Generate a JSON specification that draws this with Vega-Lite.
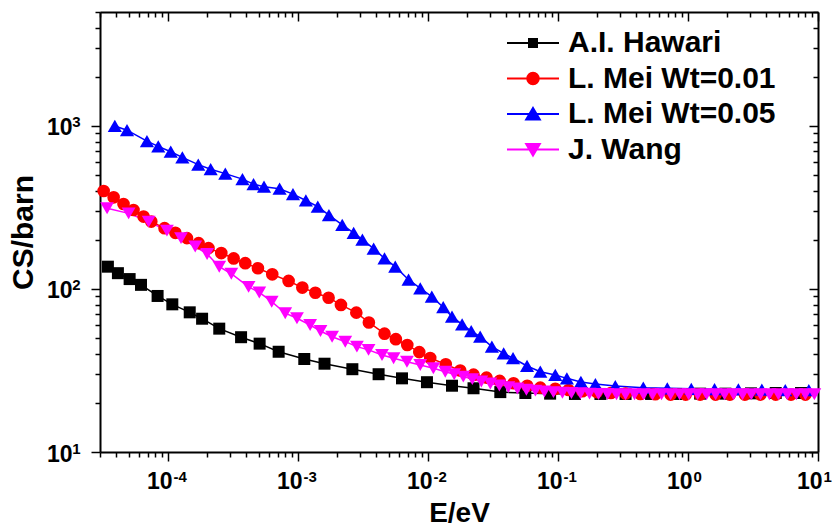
{
"$schema": "https://vega.github.io/schema/vega-lite/v6.json",
"width": 718, "height": 440,
"autosize": {"type": "none"},
"padding": {"left": 100, "top": 12, "right": 15, "bottom": 79},
"background": "white",
"config": {"view": {"stroke": null}, "axis": {"grid": false, "labelFont": "Liberation Sans", "titleFont": "Liberation Sans", "labelFontWeight": "bold", "titleFontWeight": "bold", "labelColor": "black", "titleColor": "black", "domainColor": "black", "tickColor": "black", "labelFlush": false, "labelOverlap": false, "labelBound": false},
 "legend": {"title": null, "orient": "none", "legendX": 418, "legendY": 16, "padding": 0, "symbolSize": 256, "symbolStrokeWidth": 2, "labelFont": "Liberation Sans", "labelFontWeight": "bold", "labelFontSize": 30, "labelColor": "black", "labelOffset": 20, "rowPadding": 5.5, "labelLimit": 400}},
"data": {"values": [
{"s":"A.I. Hawari","E":3.45e-5,"CS":137},{"s":"A.I. Hawari","E":4.12e-5,"CS":125},{"s":"A.I. Hawari","E":5.07e-5,"CS":115},{"s":"A.I. Hawari","E":6.2e-5,"CS":106},{"s":"A.I. Hawari","E":8.32e-5,"CS":90.6},{"s":"A.I. Hawari","E":1.08e-4,"CS":80.5},{"s":"A.I. Hawari","E":1.47e-4,"CS":71.9},{"s":"A.I. Hawari","E":1.83e-4,"CS":65.7},{"s":"A.I. Hawari","E":2.48e-4,"CS":57.1},{"s":"A.I. Hawari","E":3.65e-4,"CS":50.6},{"s":"A.I. Hawari","E":5.07e-4,"CS":46.2},{"s":"A.I. Hawari","E":7.1e-4,"CS":41.2},{"s":"A.I. Hawari","E":1.118e-3,"CS":37.2},{"s":"A.I. Hawari","E":1.6e-3,"CS":34.8},{"s":"A.I. Hawari","E":2.62e-3,"CS":32.2},{"s":"A.I. Hawari","E":4.17e-3,"CS":30.0},{"s":"A.I. Hawari","E":6.31e-3,"CS":28.3},{"s":"A.I. Hawari","E":9.82e-3,"CS":26.8},{"s":"A.I. Hawari","E":1.53e-2,"CS":25.5},{"s":"A.I. Hawari","E":2.24e-2,"CS":24.6},{"s":"A.I. Hawari","E":3.6e-2,"CS":23.3},{"s":"A.I. Hawari","E":0.0561,"CS":23.0},{"s":"A.I. Hawari","E":0.087,"CS":22.8},{"s":"A.I. Hawari","E":0.135,"CS":22.7},{"s":"A.I. Hawari","E":0.212,"CS":22.7},{"s":"A.I. Hawari","E":0.331,"CS":22.7},{"s":"A.I. Hawari","E":0.52,"CS":22.7},{"s":"A.I. Hawari","E":0.81,"CS":22.7},{"s":"A.I. Hawari","E":1.24,"CS":22.8},{"s":"A.I. Hawari","E":1.94,"CS":22.8},{"s":"A.I. Hawari","E":3.05,"CS":22.9},{"s":"A.I. Hawari","E":4.73,"CS":23.0},{"s":"A.I. Hawari","E":7.4,"CS":23.0},
{"s":"L. Mei Wt=0.01","E":3.2e-5,"CS":399},{"s":"L. Mei Wt=0.01","E":3.82e-5,"CS":365},{"s":"L. Mei Wt=0.01","E":4.55e-5,"CS":332},{"s":"L. Mei Wt=0.01","E":5.43e-5,"CS":305},{"s":"L. Mei Wt=0.01","E":6.49e-5,"CS":278},{"s":"L. Mei Wt=0.01","E":7.44e-5,"CS":259},{"s":"L. Mei Wt=0.01","E":9.41e-5,"CS":236},{"s":"L. Mei Wt=0.01","E":1.14e-4,"CS":221},{"s":"L. Mei Wt=0.01","E":1.4e-4,"CS":205},{"s":"L. Mei Wt=0.01","E":1.72e-4,"CS":191},{"s":"L. Mei Wt=0.01","E":2.05e-4,"CS":178},{"s":"L. Mei Wt=0.01","E":2.57e-4,"CS":166},{"s":"L. Mei Wt=0.01","E":3.2e-4,"CS":154},{"s":"L. Mei Wt=0.01","E":3.93e-4,"CS":144},{"s":"L. Mei Wt=0.01","E":4.92e-4,"CS":134},{"s":"L. Mei Wt=0.01","E":6.34e-4,"CS":123},{"s":"L. Mei Wt=0.01","E":8.47e-4,"CS":112},{"s":"L. Mei Wt=0.01","E":1.08e-3,"CS":102},{"s":"L. Mei Wt=0.01","E":1.36e-3,"CS":94.8},{"s":"L. Mei Wt=0.01","E":1.72e-3,"CS":88.4},{"s":"L. Mei Wt=0.01","E":2.14e-3,"CS":79.8},{"s":"L. Mei Wt=0.01","E":2.81e-3,"CS":71.6},{"s":"L. Mei Wt=0.01","E":3.51e-3,"CS":62.3},{"s":"L. Mei Wt=0.01","E":4.63e-3,"CS":53.2},{"s":"L. Mei Wt=0.01","E":5.66e-3,"CS":49.2},{"s":"L. Mei Wt=0.01","E":6.93e-3,"CS":45.3},{"s":"L. Mei Wt=0.01","E":8.57e-3,"CS":41.0},{"s":"L. Mei Wt=0.01","E":1.04e-2,"CS":37.7},{"s":"L. Mei Wt=0.01","E":1.37e-2,"CS":34.5},{"s":"L. Mei Wt=0.01","E":1.77e-2,"CS":31.6},{"s":"L. Mei Wt=0.01","E":2.24e-2,"CS":29.8},{"s":"L. Mei Wt=0.01","E":2.82e-2,"CS":28.6},{"s":"L. Mei Wt=0.01","E":3.56e-2,"CS":27.3},{"s":"L. Mei Wt=0.01","E":4.55e-2,"CS":26.4},{"s":"L. Mei Wt=0.01","E":5.8e-2,"CS":25.5},{"s":"L. Mei Wt=0.01","E":7.31e-2,"CS":24.8},{"s":"L. Mei Wt=0.01","E":9.53e-2,"CS":24.4},{"s":"L. Mei Wt=0.01","E":0.1206,"CS":24.0},{"s":"L. Mei Wt=0.01","E":0.154,"CS":23.6},{"s":"L. Mei Wt=0.01","E":0.199,"CS":23.3},{"s":"L. Mei Wt=0.01","E":0.255,"CS":23.0},{"s":"L. Mei Wt=0.01","E":0.331,"CS":22.8},{"s":"L. Mei Wt=0.01","E":0.43,"CS":22.7},{"s":"L. Mei Wt=0.01","E":0.56,"CS":22.6},{"s":"L. Mei Wt=0.01","E":0.735,"CS":22.5},{"s":"L. Mei Wt=0.01","E":0.96,"CS":22.5},{"s":"L. Mei Wt=0.01","E":1.24,"CS":22.5},{"s":"L. Mei Wt=0.01","E":1.63,"CS":22.5},{"s":"L. Mei Wt=0.01","E":2.1,"CS":22.5},{"s":"L. Mei Wt=0.01","E":2.74,"CS":22.5},{"s":"L. Mei Wt=0.01","E":3.61,"CS":22.5},{"s":"L. Mei Wt=0.01","E":4.73,"CS":22.5},{"s":"L. Mei Wt=0.01","E":6.2,"CS":22.5},{"s":"L. Mei Wt=0.01","E":8.0,"CS":22.5},
{"s":"L. Mei Wt=0.05","E":3.9e-5,"CS":1000},{"s":"L. Mei Wt=0.05","E":4.84e-5,"CS":942},{"s":"L. Mei Wt=0.05","E":6.89e-5,"CS":807},{"s":"L. Mei Wt=0.05","E":8.42e-5,"CS":750},{"s":"L. Mei Wt=0.05","E":1.05e-4,"CS":695},{"s":"L. Mei Wt=0.05","E":1.29e-4,"CS":641},{"s":"L. Mei Wt=0.05","E":1.71e-4,"CS":579},{"s":"L. Mei Wt=0.05","E":2.13e-4,"CS":543},{"s":"L. Mei Wt=0.05","E":2.76e-4,"CS":510},{"s":"L. Mei Wt=0.05","E":3.74e-4,"CS":472},{"s":"L. Mei Wt=0.05","E":4.55e-4,"CS":440},{"s":"L. Mei Wt=0.05","E":5.48e-4,"CS":424},{"s":"L. Mei Wt=0.05","E":7.22e-4,"CS":412},{"s":"L. Mei Wt=0.05","E":9.15e-4,"CS":382},{"s":"L. Mei Wt=0.05","E":1.15e-3,"CS":349},{"s":"L. Mei Wt=0.05","E":1.42e-3,"CS":320},{"s":"L. Mei Wt=0.05","E":1.73e-3,"CS":284},{"s":"L. Mei Wt=0.05","E":2.19e-3,"CS":247},{"s":"L. Mei Wt=0.05","E":2.68e-3,"CS":221},{"s":"L. Mei Wt=0.05","E":3.13e-3,"CS":201},{"s":"L. Mei Wt=0.05","E":3.82e-3,"CS":177},{"s":"L. Mei Wt=0.05","E":4.63e-3,"CS":154},{"s":"L. Mei Wt=0.05","E":5.6e-3,"CS":137},{"s":"L. Mei Wt=0.05","E":7.09e-3,"CS":114},{"s":"L. Mei Wt=0.05","E":8.72e-3,"CS":101},{"s":"L. Mei Wt=0.05","E":1.07e-2,"CS":89.7},{"s":"L. Mei Wt=0.05","E":1.31e-2,"CS":77.3},{"s":"L. Mei Wt=0.05","E":1.53e-2,"CS":67.6},{"s":"L. Mei Wt=0.05","E":1.83e-2,"CS":60.7},{"s":"L. Mei Wt=0.05","E":2.15e-2,"CS":55.2},{"s":"L. Mei Wt=0.05","E":2.52e-2,"CS":51.0},{"s":"L. Mei Wt=0.05","E":3.1e-2,"CS":44.3},{"s":"L. Mei Wt=0.05","E":3.82e-2,"CS":40.3},{"s":"L. Mei Wt=0.05","E":4.51e-2,"CS":37.6},{"s":"L. Mei Wt=0.05","E":5.78e-2,"CS":33.7},{"s":"L. Mei Wt=0.05","E":7.31e-2,"CS":31.1},{"s":"L. Mei Wt=0.05","E":9.53e-2,"CS":29.7},{"s":"L. Mei Wt=0.05","E":0.117,"CS":28.3},{"s":"L. Mei Wt=0.05","E":0.15,"CS":26.9},{"s":"L. Mei Wt=0.05","E":0.194,"CS":26.1},{"s":"L. Mei Wt=0.05","E":0.276,"CS":25.4},{"s":"L. Mei Wt=0.05","E":0.453,"CS":24.8},{"s":"L. Mei Wt=0.05","E":0.693,"CS":24.6},{"s":"L. Mei Wt=0.05","E":1.06,"CS":24.4},{"s":"L. Mei Wt=0.05","E":1.6,"CS":24.3},{"s":"L. Mei Wt=0.05","E":2.44,"CS":24.2},{"s":"L. Mei Wt=0.05","E":3.7,"CS":24.1},{"s":"L. Mei Wt=0.05","E":5.6,"CS":24.0},{"s":"L. Mei Wt=0.05","E":8.5,"CS":24.0},
{"s":"J. Wang","E":3.4e-5,"CS":313},{"s":"J. Wang","E":4.98e-5,"CS":291},{"s":"J. Wang","E":7.1e-5,"CS":259},{"s":"J. Wang","E":9.82e-5,"CS":228},{"s":"J. Wang","E":1.26e-4,"CS":205},{"s":"J. Wang","E":1.62e-4,"CS":182},{"s":"J. Wang","E":2.0e-4,"CS":164},{"s":"J. Wang","E":2.48e-4,"CS":137},{"s":"J. Wang","E":3.07e-4,"CS":124},{"s":"J. Wang","E":4.17e-4,"CS":103},{"s":"J. Wang","E":5.04e-4,"CS":95.2},{"s":"J. Wang","E":6.28e-4,"CS":83.6},{"s":"J. Wang","E":7.98e-4,"CS":71.0},{"s":"J. Wang","E":9.82e-4,"CS":66.1},{"s":"J. Wang","E":1.24e-3,"CS":60.1},{"s":"J. Wang","E":1.49e-3,"CS":55.2},{"s":"J. Wang","E":1.83e-3,"CS":50.9},{"s":"J. Wang","E":2.31e-3,"CS":47.5},{"s":"J. Wang","E":2.84e-3,"CS":44.3},{"s":"J. Wang","E":3.49e-3,"CS":42.3},{"s":"J. Wang","E":4.43e-3,"CS":39.4},{"s":"J. Wang","E":5.44e-3,"CS":37.6},{"s":"J. Wang","E":6.89e-3,"CS":35.8},{"s":"J. Wang","E":8.72e-3,"CS":34.2},{"s":"J. Wang","E":1.1e-2,"CS":32.6},{"s":"J. Wang","E":0.01358,"CS":31.1},{"s":"J. Wang","E":0.01592,"CS":30.0},{"s":"J. Wang","E":0.01869,"CS":29.0},{"s":"J. Wang","E":0.02193,"CS":28.0},{"s":"J. Wang","E":0.02573,"CS":27.1},{"s":"J. Wang","E":0.03017,"CS":26.3},{"s":"J. Wang","E":0.0354,"CS":25.6},{"s":"J. Wang","E":0.04152,"CS":25.0},{"s":"J. Wang","E":0.04871,"CS":24.5},{"s":"J. Wang","E":0.05714,"CS":24.1},{"s":"J. Wang","E":0.06703,"CS":23.8},{"s":"J. Wang","E":0.07863,"CS":23.5},{"s":"J. Wang","E":0.09224,"CS":23.3},{"s":"J. Wang","E":0.1082,"CS":23.1},{"s":"J. Wang","E":0.1269,"CS":23.0},{"s":"J. Wang","E":0.1489,"CS":22.9},{"s":"J. Wang","E":0.1747,"CS":22.8},{"s":"J. Wang","E":0.2049,"CS":22.7},{"s":"J. Wang","E":0.2404,"CS":22.7},{"s":"J. Wang","E":0.282,"CS":22.6},{"s":"J. Wang","E":0.3308,"CS":22.6},{"s":"J. Wang","E":0.388,"CS":22.6},{"s":"J. Wang","E":0.4552,"CS":22.6},{"s":"J. Wang","E":0.534,"CS":22.6},{"s":"J. Wang","E":0.626,"CS":22.6},{"s":"J. Wang","E":0.735,"CS":22.6},{"s":"J. Wang","E":0.862,"CS":22.6},{"s":"J. Wang","E":1.011,"CS":22.6},{"s":"J. Wang","E":1.186,"CS":22.6},{"s":"J. Wang","E":1.39,"CS":22.6},{"s":"J. Wang","E":1.63,"CS":22.6},{"s":"J. Wang","E":1.91,"CS":22.6},{"s":"J. Wang","E":2.24,"CS":22.6},{"s":"J. Wang","E":2.63,"CS":22.6},{"s":"J. Wang","E":3.07,"CS":22.6},{"s":"J. Wang","E":3.61,"CS":22.6},{"s":"J. Wang","E":4.23,"CS":22.6},{"s":"J. Wang","E":4.96,"CS":22.6},{"s":"J. Wang","E":5.81,"CS":22.6},{"s":"J. Wang","E":6.82,"CS":22.6},{"s":"J. Wang","E":8.0,"CS":22.6},{"s":"J. Wang","E":9.38,"CS":22.6}
]},
"layer": [
{"mark": {"type": "line", "strokeWidth": 1.5},
 "encoding": {
  "x": {"field": "E", "type": "quantitative", "scale": {"type": "log", "domain": [0.00003, 10], "nice": false},
   "axis": {"orient": "bottom", "values": [0.00003,0.00004,0.00005,0.00006,0.00007,0.00008,0.00009,0.0001,0.0002,0.0003,0.0004,0.0005,0.0006,0.0007,0.0008,0.0009,0.001,0.002,0.003,0.004,0.005,0.006,0.007,0.008,0.009,0.01,0.02,0.03,0.04,0.05,0.06,0.07,0.08,0.09,0.1,0.2,0.3,0.4,0.5,0.6,0.7,0.8,0.9,1,2,3,4,5,6,7,8,9,10],
    "labelExpr": "abs(log(datum.value)/LN10 - round(log(datum.value)/LN10)) < 0.000001 ? '10' : ''",
    "tickSize": {"condition": {"test": "abs(log(datum.value)/LN10 - round(log(datum.value)/LN10)) < 0.000001", "value": 9}, "value": 5},
    "tickWidth": 1.5, "domainWidth": 2, "labelFontSize": 23, "labelAlign": "right", "labelOffset": 4, "labelPadding": 9, "labelBaseline": "top",
    "title": "E/eV", "titleFontSize": 28, "titlePadding": 6}},
  "y": {"field": "CS", "type": "quantitative", "scale": {"type": "log", "domain": [10, 5000], "nice": false},
   "axis": {"orient": "left", "values": [10,20,30,40,50,60,70,80,90,100,200,300,400,500,600,700,800,900,1000,2000,3000,4000,5000],
    "labelExpr": "abs(log(datum.value)/LN10 - round(log(datum.value)/LN10)) < 0.000001 ? '10' : ''",
    "tickSize": {"condition": {"test": "abs(log(datum.value)/LN10 - round(log(datum.value)/LN10)) < 0.000001", "value": 9}, "value": 5},
    "tickWidth": 1.5, "domainWidth": 2, "labelFontSize": 23, "labelPadding": 19, "labelOffset": 2,
    "title": "CS/barn", "titleFontSize": 30, "titlePadding": 8}},
  "color": {"field": "s", "type": "nominal",
   "scale": {"domain": ["A.I. Hawari", "L. Mei Wt=0.01", "L. Mei Wt=0.05", "J. Wang"], "range": ["#000000", "#FF0000", "#0000FF", "#FF00FF"]},
   "legend": {"encoding": {"symbols": {
     "shape": {"value": {"expr": "datum.value == 'A.I. Hawari' ? 'M-3.25,0H3.25M-0.5,-0.5H0.5V0.5H-0.5Z' : datum.value == 'L. Mei Wt=0.01' ? 'M-3.25,0H3.25M-0.72,0A0.72,0.72 0 1,0 0.72,0A0.72,0.72 0 1,0 -0.72,0Z' : datum.value == 'L. Mei Wt=0.05' ? 'M-3.25,0H3.25M0,-0.75L0.85,0.68H-0.85Z' : 'M-3.25,0H3.25M0,0.75L0.85,-0.68H-0.85Z'"}},
     "fill": {"value": {"expr": "scale('color', datum.value)"}},
     "stroke": {"value": {"expr": "scale('color', datum.value)"}},
     "strokeWidth": {"value": 2},
     "opacity": {"value": 1}}}}}
 }},
{"transform": [{"filter": "datum.s == 'A.I. Hawari'"}],
 "mark": {"type": "point", "shape": "square", "size": 144, "filled": true, "opacity": 1, "strokeWidth": 0},
 "encoding": {
  "x": {"field": "E", "type": "quantitative", "scale": {"type": "log", "domain": [0.00003, 10], "nice": false}, "axis": null},
  "y": {"field": "CS", "type": "quantitative", "scale": {"type": "log", "domain": [10, 5000], "nice": false}, "axis": null},
  "color": {"field": "s", "type": "nominal", "scale": {"domain": ["A.I. Hawari", "L. Mei Wt=0.01", "L. Mei Wt=0.05", "J. Wang"], "range": ["#000000", "#FF0000", "#0000FF", "#FF00FF"]},
   "legend": {"encoding": {"symbols": {
     "shape": {"value": {"expr": "datum.value == 'A.I. Hawari' ? 'M-3.25,0H3.25M-0.5,-0.5H0.5V0.5H-0.5Z' : datum.value == 'L. Mei Wt=0.01' ? 'M-3.25,0H3.25M-0.72,0A0.72,0.72 0 1,0 0.72,0A0.72,0.72 0 1,0 -0.72,0Z' : datum.value == 'L. Mei Wt=0.05' ? 'M-3.25,0H3.25M0,-0.75L0.85,0.68H-0.85Z' : 'M-3.25,0H3.25M0,0.75L0.85,-0.68H-0.85Z'"}},
     "fill": {"value": {"expr": "scale('color', datum.value)"}},
     "stroke": {"value": {"expr": "scale('color', datum.value)"}},
     "strokeWidth": {"value": 2},
     "opacity": {"value": 1}}}}}
 }},
{"transform": [{"filter": "datum.s == 'L. Mei Wt=0.01'"}],
 "mark": {"type": "point", "shape": "circle", "size": 160, "filled": true, "opacity": 1, "strokeWidth": 0},
 "encoding": {
  "x": {"field": "E", "type": "quantitative", "scale": {"type": "log", "domain": [0.00003, 10], "nice": false}, "axis": null},
  "y": {"field": "CS", "type": "quantitative", "scale": {"type": "log", "domain": [10, 5000], "nice": false}, "axis": null},
  "color": {"field": "s", "type": "nominal", "scale": {"domain": ["A.I. Hawari", "L. Mei Wt=0.01", "L. Mei Wt=0.05", "J. Wang"], "range": ["#000000", "#FF0000", "#0000FF", "#FF00FF"]},
   "legend": {"encoding": {"symbols": {
     "shape": {"value": {"expr": "datum.value == 'A.I. Hawari' ? 'M-3.25,0H3.25M-0.5,-0.5H0.5V0.5H-0.5Z' : datum.value == 'L. Mei Wt=0.01' ? 'M-3.25,0H3.25M-0.72,0A0.72,0.72 0 1,0 0.72,0A0.72,0.72 0 1,0 -0.72,0Z' : datum.value == 'L. Mei Wt=0.05' ? 'M-3.25,0H3.25M0,-0.75L0.85,0.68H-0.85Z' : 'M-3.25,0H3.25M0,0.75L0.85,-0.68H-0.85Z'"}},
     "fill": {"value": {"expr": "scale('color', datum.value)"}},
     "stroke": {"value": {"expr": "scale('color', datum.value)"}},
     "strokeWidth": {"value": 2},
     "opacity": {"value": 1}}}}}
 }},
{"transform": [{"filter": "datum.s == 'L. Mei Wt=0.05'"}],
 "mark": {"type": "point", "shape": "triangle-up", "size": 200, "filled": true, "opacity": 1, "strokeWidth": 0},
 "encoding": {
  "x": {"field": "E", "type": "quantitative", "scale": {"type": "log", "domain": [0.00003, 10], "nice": false}, "axis": null},
  "y": {"field": "CS", "type": "quantitative", "scale": {"type": "log", "domain": [10, 5000], "nice": false}, "axis": null},
  "color": {"field": "s", "type": "nominal", "scale": {"domain": ["A.I. Hawari", "L. Mei Wt=0.01", "L. Mei Wt=0.05", "J. Wang"], "range": ["#000000", "#FF0000", "#0000FF", "#FF00FF"]},
   "legend": {"encoding": {"symbols": {
     "shape": {"value": {"expr": "datum.value == 'A.I. Hawari' ? 'M-3.25,0H3.25M-0.5,-0.5H0.5V0.5H-0.5Z' : datum.value == 'L. Mei Wt=0.01' ? 'M-3.25,0H3.25M-0.72,0A0.72,0.72 0 1,0 0.72,0A0.72,0.72 0 1,0 -0.72,0Z' : datum.value == 'L. Mei Wt=0.05' ? 'M-3.25,0H3.25M0,-0.75L0.85,0.68H-0.85Z' : 'M-3.25,0H3.25M0,0.75L0.85,-0.68H-0.85Z'"}},
     "fill": {"value": {"expr": "scale('color', datum.value)"}},
     "stroke": {"value": {"expr": "scale('color', datum.value)"}},
     "strokeWidth": {"value": 2},
     "opacity": {"value": 1}}}}}
 }},
{"transform": [{"filter": "datum.s == 'J. Wang'"}],
 "mark": {"type": "point", "shape": "triangle-down", "size": 190, "filled": true, "opacity": 1, "strokeWidth": 0},
 "encoding": {
  "x": {"field": "E", "type": "quantitative", "scale": {"type": "log", "domain": [0.00003, 10], "nice": false}, "axis": null},
  "y": {"field": "CS", "type": "quantitative", "scale": {"type": "log", "domain": [10, 5000], "nice": false}, "axis": null},
  "color": {"field": "s", "type": "nominal", "scale": {"domain": ["A.I. Hawari", "L. Mei Wt=0.01", "L. Mei Wt=0.05", "J. Wang"], "range": ["#000000", "#FF0000", "#0000FF", "#FF00FF"]},
   "legend": {"encoding": {"symbols": {
     "shape": {"value": {"expr": "datum.value == 'A.I. Hawari' ? 'M-3.25,0H3.25M-0.5,-0.5H0.5V0.5H-0.5Z' : datum.value == 'L. Mei Wt=0.01' ? 'M-3.25,0H3.25M-0.72,0A0.72,0.72 0 1,0 0.72,0A0.72,0.72 0 1,0 -0.72,0Z' : datum.value == 'L. Mei Wt=0.05' ? 'M-3.25,0H3.25M0,-0.75L0.85,0.68H-0.85Z' : 'M-3.25,0H3.25M0,0.75L0.85,-0.68H-0.85Z'"}},
     "fill": {"value": {"expr": "scale('color', datum.value)"}},
     "stroke": {"value": {"expr": "scale('color', datum.value)"}},
     "strokeWidth": {"value": 2},
     "opacity": {"value": 1}}}}}
 }},
{"mark": {"type": "point", "opacity": 0},
 "encoding": {
  "x": {"field": "E", "type": "quantitative", "scale": {"type": "log", "domain": [0.00003, 10], "nice": false},
   "axis": {"orient": "bottom", "values": [0.0001, 0.001, 0.01, 0.1, 1, 10], "labelExpr": "'' + round(log(datum.value)/LN10)", "ticks": false, "domain": false, "labelFontSize": 15, "labelAlign": "left", "labelOffset": 5, "labelPadding": 17, "labelBaseline": "top", "title": null}},
  "y": {"field": "CS", "type": "quantitative", "scale": {"type": "log", "domain": [10, 5000], "nice": false},
   "axis": {"orient": "left", "values": [10, 100, 1000], "labelExpr": "'' + round(log(datum.value)/LN10)", "ticks": false, "domain": false, "labelFontSize": 15, "labelPadding": 20, "labelOffset": -4, "title": null}}
 }},
{"mark": {"type": "point", "opacity": 0},
 "encoding": {
  "x": {"field": "E", "type": "quantitative", "scale": {"type": "log", "domain": [0.00003, 10], "nice": false},
   "axis": {"orient": "top", "values": [0.00003,0.00004,0.00005,0.00006,0.00007,0.00008,0.00009,0.0001,0.0002,0.0003,0.0004,0.0005,0.0006,0.0007,0.0008,0.0009,0.001,0.002,0.003,0.004,0.005,0.006,0.007,0.008,0.009,0.01,0.02,0.03,0.04,0.05,0.06,0.07,0.08,0.09,0.1,0.2,0.3,0.4,0.5,0.6,0.7,0.8,0.9,1,2,3,4,5,6,7,8,9,10],
    "labels": false, "title": null, "tickWidth": 1.5, "domainWidth": 2,
    "tickSize": {"condition": {"test": "abs(log(datum.value)/LN10 - round(log(datum.value)/LN10)) < 0.000001", "value": -9}, "value": -5}}},
  "y": {"field": "CS", "type": "quantitative", "scale": {"type": "log", "domain": [10, 5000], "nice": false},
   "axis": {"orient": "right", "values": [10,20,30,40,50,60,70,80,90,100,200,300,400,500,600,700,800,900,1000,2000,3000,4000,5000],
    "labels": false, "title": null, "tickWidth": 1.5, "domainWidth": 2,
    "tickSize": {"condition": {"test": "abs(log(datum.value)/LN10 - round(log(datum.value)/LN10)) < 0.000001", "value": -9}, "value": -5}}}
 }}
],
"resolve": {"axis": {"x": "independent", "y": "independent"}}
}
